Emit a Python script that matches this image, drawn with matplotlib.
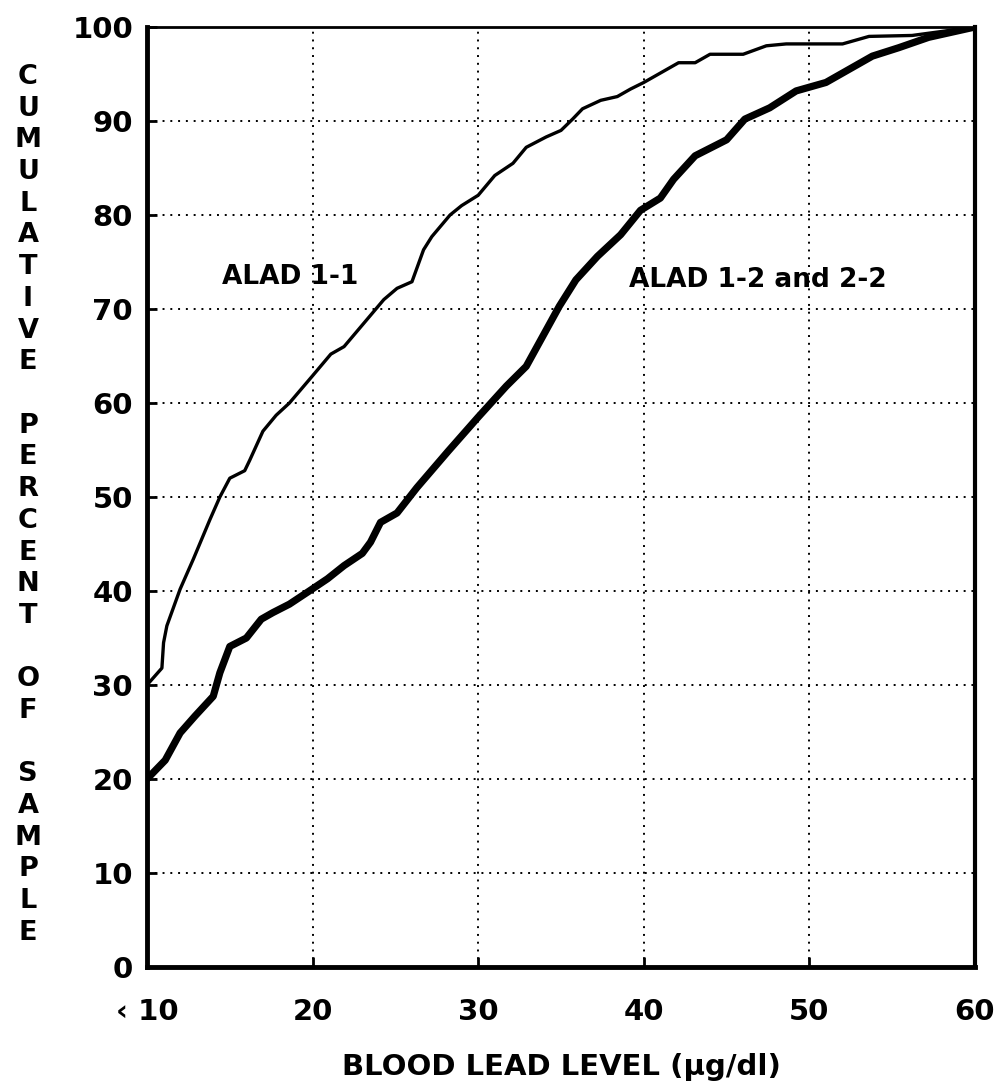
import matplotlib
matplotlib.use('Agg')
import matplotlib.pyplot as plt

# cumulative percent of sample vs blood lead level
lead_11 = [10, 10.9, 11, 11.2, 12, 12.8, 13.8, 14.4, 15, 15.9, 16.2, 17, 17.8, 18.6,
           20, 21.1, 21.9, 23.1, 24.3, 25.1, 26, 26.7, 27.2, 28.3, 29, 30, 31, 32.1,
           32.9, 34.1, 35, 35.7, 36.3, 37.4, 38.4, 39.2, 40, 41.2, 42.1, 43.1, 44, 46,
           47.4, 48.6, 52, 53.6, 56.2, 60]
pct_11 = [30, 31.8, 34.5, 36.3, 40.2, 43.4, 47.6, 50, 52, 52.8, 53.9, 57, 58.7, 60,
          62.9, 65.2, 66, 68.5, 71, 72.2, 72.9, 76.3, 77.7, 80, 81, 82.1, 84.2, 85.5,
          87.2, 88.3, 89, 90.2, 91.3, 92.2, 92.6, 93.4, 94.1, 95.3, 96.2, 96.2, 97.1, 97.1,
          98, 98.2, 98.2, 99, 99.1, 100]

lead_12 = [10, 11.1, 12, 12.9, 14, 14.4, 15, 16, 16.9, 17.6, 18.6, 19.8, 20.9, 21.9,
           23, 23.5, 24.1, 25.1, 26.3, 28.2, 30, 31.7, 32.9, 33.9, 34.9, 35.9, 37.2,
           38.6, 39.8, 41, 41.8, 43.1, 45, 46.1, 47.6, 49.2, 51, 52.2, 53.8, 55.4,
           57.2, 60]
pct_12 = [20, 22, 24.9, 26.7, 28.8, 31.3, 34.1, 35, 37, 37.7, 38.6, 40, 41.3, 42.7,
          44, 45.2, 47.3, 48.3, 51, 54.9, 58.5, 61.8, 63.9, 67.1, 70.3, 73.1, 75.6,
          77.9, 80.5, 81.8, 83.8, 86.3, 88, 90.2, 91.4, 93.2, 94.1, 95.3, 96.9, 97.8,
          98.9, 100]

x_ticks = [10, 20, 30, 40, 50, 60]
x_labels = ['\u2039 10', '20', '30', '40', '50', '60']
y_ticks = list(range(0, 101, 10))
y_words = ['CUMULATIVE', 'PERCENT', 'OF', 'SAMPLE']

plt.rcParams['font.family'] = ['DejaVu Sans']
plt.rcParams['font.weight'] = 'bold'

W, H = 1002, 1088
fig = plt.figure(figsize=(W / 100, H / 100), dpi=100)
ax = fig.add_axes([147 / W, 1 - 967 / H, (975 - 147) / W, (967 - 27) / H])

ax.plot(lead_11, pct_11, color='black', lw=2.4, solid_joinstyle='round')
ax.plot(lead_12, pct_12, color='black', lw=5.2, solid_joinstyle='round',
        solid_capstyle='round')

ax.set_xlim(10, 60)
ax.set_ylim(0, 100)
ax.set_xticks(x_ticks)
ax.set_xticklabels(x_labels)
ax.set_yticks(y_ticks)

# dotted grid, only inside
for x in x_ticks[1:-1]:
    ax.axvline(x, color='black', lw=1.4, ls=(0, (1, 3)), zorder=0)
for y in y_ticks[1:-1]:
    ax.axhline(y, color='black', lw=1.4, ls=(0, (1, 3)), zorder=0)

ax.tick_params(direction='in', length=7, width=2, labelsize=21, colors='black')
ax.tick_params(axis='y', pad=10)
ax.tick_params(axis='x', pad=22)
for lab in ax.get_xticklabels() + ax.get_yticklabels():
    lab.set_fontweight('bold')

ax.spines['left'].set_linewidth(3.5)
ax.spines['bottom'].set_linewidth(3.5)
ax.spines['top'].set_linewidth(2)
ax.spines['right'].set_linewidth(3)

ax.text(14.5, 73.4, 'ALAD 1-1', fontsize=19, fontweight='bold', va='center', ha='left')
ax.text(39.1, 73.1, 'ALAD 1-2 and 2-2', fontsize=19, fontweight='bold', va='center', ha='left')

ax.set_xlabel('BLOOD LEAD LEVEL (\u03bcg/dl)', fontsize=21, fontweight='bold', labelpad=20)

# stacked vertical y label, one letter per row
rows = []
for i, w in enumerate(y_words):
    if i > 0:
        rows.append('')
    rows.extend(list(w))
pitch = 31.7
for i, ch in enumerate(rows):
    if ch:
        fig.text(28 / W, 1 - (77 + i * pitch) / H, ch, fontsize=19.5, fontweight='bold',
                 ha='center', va='center')

fig.savefig('out.png', dpi=100, facecolor='white')
